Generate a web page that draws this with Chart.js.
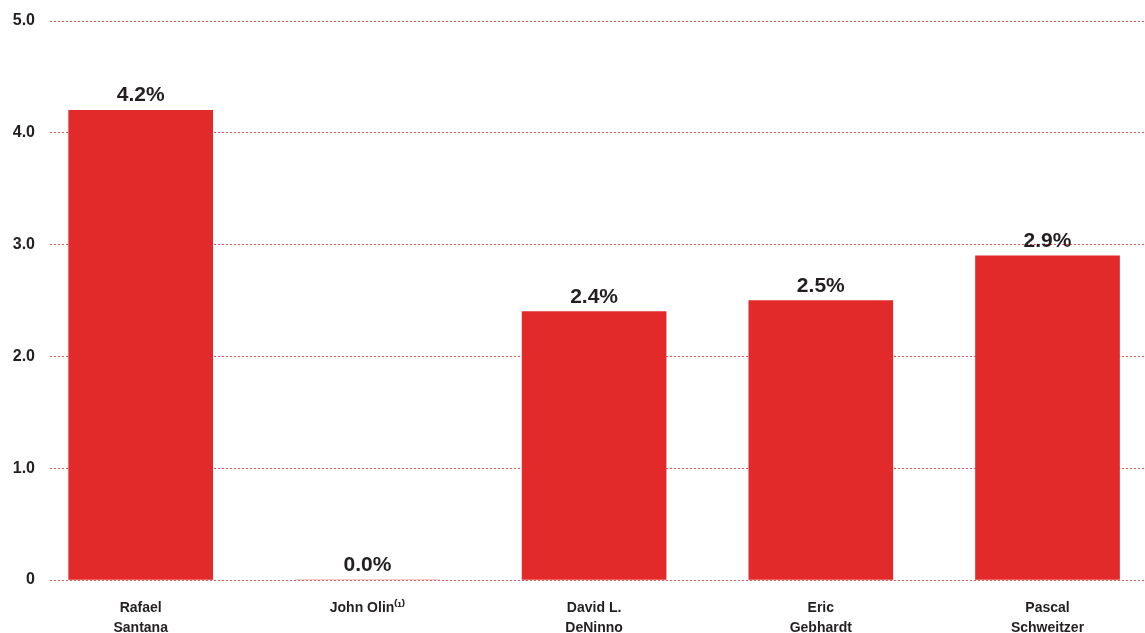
<!DOCTYPE html>
<html>
<head>
<meta charset="utf-8">
<script src="https://cdn.jsdelivr.net/npm/chart.js@4"></script>
<style>
  html, body { margin: 0; padding: 0; background: #fff; }
  #wrap { width: 1145px; height: 633px; }
</style>
</head>
<body>
<div id="wrap"><canvas id="chart"></canvas></div>
<script>
// chart data
const names = [
  ['Rafael', 'Santana'],
  ['John Olin\u207D\u00B9\u207E'],
  ['David L.', 'DeNinno'],
  ['Eric', 'Gebhardt'],
  ['Pascal', 'Schweitzer']
];
const values = [4.2, 0.0, 2.4, 2.5, 2.9];
const yTicks = [0, 1, 2, 3, 4, 5];

const RED = '#e12a29';
const TEXT = '#231f20';
const FONT = "'Liberation Sans', Arial, sans-serif";

// draws the "x.x%" labels above each bar
const valueLabels = {
  id: 'valueLabels',
  afterDatasetsDraw(chart) {
    const ctx = chart.ctx;
    const meta = chart.getDatasetMeta(0);
    ctx.save();
    ctx.font = 'bold 21px ' + FONT;
    ctx.fillStyle = TEXT;
    ctx.textAlign = 'center';
    ctx.textBaseline = 'alphabetic';
    meta.data.forEach((bar, i) => {
      ctx.fillText(values[i].toFixed(1) + '%', bar.x, bar.y - 9);
    });
    ctx.restore();
  }
};

new Chart(document.getElementById('chart').getContext('2d'), {
  type: 'bar',
  data: {
    datasets: [{
      data: values.map((v, i) => ({ x: i, y: v })),
      backgroundColor: RED,
      borderWidth: 0,
      barThickness: 144
    }]
  },
  options: {
    responsive: true,
    maintainAspectRatio: false,
    animation: false,
    layout: { padding: { top: 21, right: 0, left: 0, bottom: 0 } },
    plugins: {
      legend: { display: false },
      tooltip: { enabled: false }
    },
    scales: {
      x: {
        type: 'linear',
        offset: false,
        min: -0.4,
        max: 4.43,
        grid: { display: false, drawTicks: false },
        border: { display: false },
        afterBuildTicks(scale) {
          scale.ticks = names.map((n, i) => ({ value: i }));
        },
        afterFit(scale) { scale.height = 53; },
        ticks: {
          autoSkip: false,
          maxRotation: 0,
          padding: 18,
          color: TEXT,
          font: { family: FONT, size: 14, weight: 'bold', lineHeight: 1.43 },
          callback: (v) => names[v]
        }
      },
      y: {
        min: 0,
        max: 5,
        afterBuildTicks(scale) {
          scale.ticks = yTicks.map(v => ({ value: v }));
        },
        afterFit(scale) {
          scale.width = 50;
          scale.paddingTop = 0;
          scale.paddingBottom = 0;
        },
        grid: {
          color: 'rgba(225, 42, 41, 0.8)',
          lineWidth: 1,
          drawTicks: false
        },
        border: { display: false, dash: [2, 2] },
        ticks: {
          padding: 15,
          color: TEXT,
          font: { family: FONT, size: 16, weight: 'bold' },
          callback: (v) => v === 0 ? '0' : v.toFixed(1)
        }
      }
    }
  },
  plugins: [valueLabels]
});
</script>
</body>
</html>
